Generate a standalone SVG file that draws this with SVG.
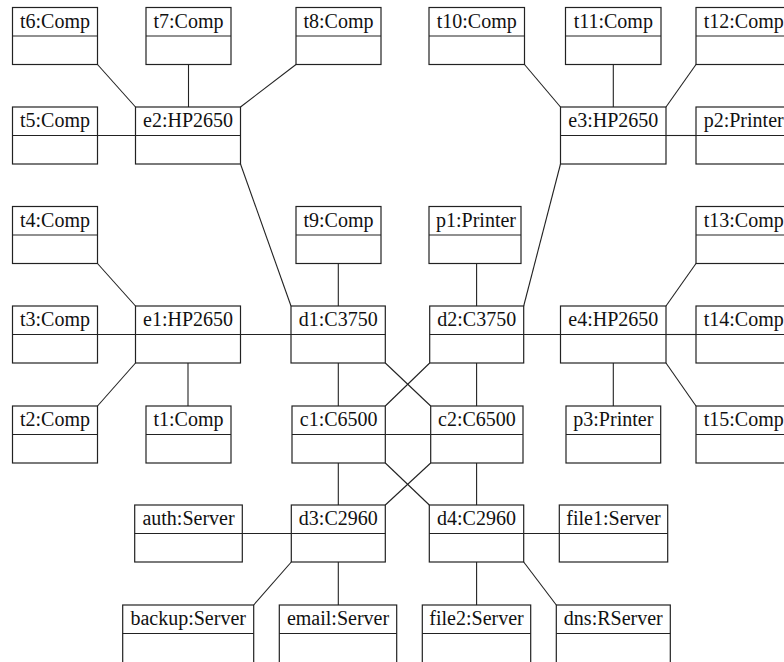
<svg xmlns="http://www.w3.org/2000/svg" width="784" height="662" viewBox="0 0 784 662">
  <style>
    .box { fill: #ffffff; stroke: #222; stroke-width: 1.2; }
    .div { stroke: #222; stroke-width: 1.2; }
    .lbl { font-family: "Liberation Serif", "Times New Roman", serif; font-size: 20px; fill: #111; text-anchor: middle; }
    .conn line { stroke: #222; stroke-width: 1.1; }
  </style>
  <rect width="784" height="662" fill="#ffffff"/>

  <!-- links between devices -->
  <g class="conn" id="connectors">
    <line x1="97.5" y1="64.5" x2="135.5" y2="107"/>
    <line x1="188.5" y1="64.5" x2="188.5" y2="107"/>
    <line x1="296" y1="64.5" x2="240.5" y2="107"/>
    <line x1="97.5" y1="135.5" x2="135.5" y2="135.5"/>
    <line x1="240.5" y1="164" x2="291" y2="306"/>
    <line x1="524.5" y1="64.5" x2="560.5" y2="107"/>
    <line x1="613.3" y1="64.5" x2="613.3" y2="107"/>
    <line x1="696" y1="64.5" x2="666" y2="107"/>
    <line x1="666" y1="135.5" x2="696" y2="135.5"/>
    <line x1="560.5" y1="164" x2="523.7" y2="306"/>
    <line x1="97.5" y1="263.5" x2="135.5" y2="306"/>
    <line x1="97.5" y1="334.5" x2="135.5" y2="334.5"/>
    <line x1="240.5" y1="334.5" x2="291" y2="334.5"/>
    <line x1="135.5" y1="363" x2="97.5" y2="406"/>
    <line x1="188" y1="363" x2="188" y2="406"/>
    <line x1="338.3" y1="263.5" x2="338.3" y2="306"/>
    <line x1="476.6" y1="263.5" x2="476.6" y2="306"/>
    <line x1="523.7" y1="334.5" x2="560.5" y2="334.5"/>
    <line x1="696" y1="263.5" x2="666" y2="306"/>
    <line x1="666" y1="334.5" x2="696" y2="334.5"/>
    <line x1="666" y1="363" x2="696" y2="406"/>
    <line x1="613.3" y1="363" x2="613.3" y2="406"/>
    <line x1="338.3" y1="363" x2="338.3" y2="406"/>
    <line x1="385.3" y1="363" x2="430.7" y2="406"/>
    <line x1="429.7" y1="363" x2="385.3" y2="406"/>
    <line x1="476.6" y1="363" x2="476.6" y2="406"/>
    <line x1="385.3" y1="434.5" x2="430.7" y2="434.5"/>
    <line x1="338.3" y1="463" x2="338.3" y2="505"/>
    <line x1="385.3" y1="463" x2="429.3" y2="505"/>
    <line x1="430.7" y1="463" x2="385.3" y2="505"/>
    <line x1="476.6" y1="463" x2="476.6" y2="505"/>
    <line x1="242.3" y1="533.5" x2="291.3" y2="533.5"/>
    <line x1="291.3" y1="562" x2="253.7" y2="605"/>
    <line x1="338.3" y1="562" x2="338.3" y2="605"/>
    <line x1="523.7" y1="533.5" x2="559.3" y2="533.5"/>
    <line x1="476.6" y1="562" x2="476.6" y2="605"/>
    <line x1="523.7" y1="562" x2="556.3" y2="605"/>
  </g>

  <!-- row 1 -->
  <g id="t6"><rect class="box" x="12.5" y="7.5" width="85" height="57"/><line class="div" x1="12.5" y1="36" x2="97.5" y2="36"/><text class="lbl" x="55" y="27.5">t6:Comp</text></g>
  <g id="t7"><rect class="box" x="146" y="7.5" width="85" height="57"/><line class="div" x1="146" y1="36" x2="231" y2="36"/><text class="lbl" x="188.5" y="27.5">t7:Comp</text></g>
  <g id="t8"><rect class="box" x="296" y="7.5" width="85" height="57"/><line class="div" x1="296" y1="36" x2="381" y2="36"/><text class="lbl" x="338.5" y="27.5">t8:Comp</text></g>
  <g id="t10"><rect class="box" x="429" y="7.5" width="95.5" height="57"/><line class="div" x1="429" y1="36" x2="524.5" y2="36"/><text class="lbl" x="476.7" y="27.5">t10:Comp</text></g>
  <g id="t11"><rect class="box" x="565.5" y="7.5" width="95.5" height="57"/><line class="div" x1="565.5" y1="36" x2="661" y2="36"/><text class="lbl" x="613.3" y="27.5">t11:Comp</text></g>
  <g id="t12"><rect class="box" x="696" y="7.5" width="95.5" height="57"/><line class="div" x1="696" y1="36" x2="791.5" y2="36"/><text class="lbl" x="743.7" y="27.5">t12:Comp</text></g>

  <!-- row 2 -->
  <g id="t5"><rect class="box" x="12.5" y="107" width="85" height="57"/><line class="div" x1="12.5" y1="135.5" x2="97.5" y2="135.5"/><text class="lbl" x="55" y="127">t5:Comp</text></g>
  <g id="e2"><rect class="box" x="135.5" y="107" width="105" height="57"/><line class="div" x1="135.5" y1="135.5" x2="240.5" y2="135.5"/><text class="lbl" x="188" y="127">e2:HP2650</text></g>
  <g id="e3"><rect class="box" x="560.5" y="107" width="105.5" height="57"/><line class="div" x1="560.5" y1="135.5" x2="666" y2="135.5"/><text class="lbl" x="613.3" y="127">e3:HP2650</text></g>
  <g id="p2"><rect class="box" x="696" y="107" width="95.5" height="57"/><line class="div" x1="696" y1="135.5" x2="791.5" y2="135.5"/><text class="lbl" x="743.7" y="127">p2:Printer</text></g>

  <!-- row 3 -->
  <g id="t4"><rect class="box" x="12.5" y="206.5" width="85" height="57"/><line class="div" x1="12.5" y1="235" x2="97.5" y2="235"/><text class="lbl" x="55" y="226.5">t4:Comp</text></g>
  <g id="t9"><rect class="box" x="296" y="206.5" width="85" height="57"/><line class="div" x1="296" y1="235" x2="381" y2="235"/><text class="lbl" x="338.5" y="226.5">t9:Comp</text></g>
  <g id="p1"><rect class="box" x="429" y="206.5" width="92" height="57"/><line class="div" x1="429" y1="235" x2="521" y2="235"/><text class="lbl" x="476" y="226.5">p1:Printer</text></g>
  <g id="t13"><rect class="box" x="696" y="206.5" width="95.5" height="57"/><line class="div" x1="696" y1="235" x2="791.5" y2="235"/><text class="lbl" x="743.7" y="226.5">t13:Comp</text></g>

  <!-- row 4 -->
  <g id="t3"><rect class="box" x="12.5" y="306" width="85" height="57"/><line class="div" x1="12.5" y1="334.5" x2="97.5" y2="334.5"/><text class="lbl" x="55" y="326">t3:Comp</text></g>
  <g id="e1"><rect class="box" x="135.5" y="306" width="105" height="57"/><line class="div" x1="135.5" y1="334.5" x2="240.5" y2="334.5"/><text class="lbl" x="188" y="326">e1:HP2650</text></g>
  <g id="d1"><rect class="box" x="291" y="306" width="94.3" height="57"/><line class="div" x1="291" y1="334.5" x2="385.3" y2="334.5"/><text class="lbl" x="338.2" y="326">d1:C3750</text></g>
  <g id="d2"><rect class="box" x="429.7" y="306" width="94" height="57"/><line class="div" x1="429.7" y1="334.5" x2="523.7" y2="334.5"/><text class="lbl" x="476.7" y="326">d2:C3750</text></g>
  <g id="e4"><rect class="box" x="560.5" y="306" width="105.5" height="57"/><line class="div" x1="560.5" y1="334.5" x2="666" y2="334.5"/><text class="lbl" x="613.3" y="326">e4:HP2650</text></g>
  <g id="t14"><rect class="box" x="696" y="306" width="95.5" height="57"/><line class="div" x1="696" y1="334.5" x2="791.5" y2="334.5"/><text class="lbl" x="743.7" y="326">t14:Comp</text></g>

  <!-- row 5 -->
  <g id="t2"><rect class="box" x="12.5" y="406" width="85" height="57"/><line class="div" x1="12.5" y1="434.5" x2="97.5" y2="434.5"/><text class="lbl" x="55" y="426">t2:Comp</text></g>
  <g id="t1"><rect class="box" x="146" y="406" width="85" height="57"/><line class="div" x1="146" y1="434.5" x2="231" y2="434.5"/><text class="lbl" x="188.5" y="426">t1:Comp</text></g>
  <g id="c1"><rect class="box" x="292" y="406" width="93.3" height="57"/><line class="div" x1="292" y1="434.5" x2="385.3" y2="434.5"/><text class="lbl" x="338.7" y="426">c1:C6500</text></g>
  <g id="c2"><rect class="box" x="430.7" y="406" width="92.3" height="57"/><line class="div" x1="430.7" y1="434.5" x2="523" y2="434.5"/><text class="lbl" x="476.9" y="426">c2:C6500</text></g>
  <g id="p3"><rect class="box" x="566" y="406" width="94.7" height="57"/><line class="div" x1="566" y1="434.5" x2="660.7" y2="434.5"/><text class="lbl" x="613.3" y="426">p3:Printer</text></g>
  <g id="t15"><rect class="box" x="696" y="406" width="95.5" height="57"/><line class="div" x1="696" y1="434.5" x2="791.5" y2="434.5"/><text class="lbl" x="743.7" y="426">t15:Comp</text></g>

  <!-- row 6 -->
  <g id="auth"><rect class="box" x="134.7" y="505" width="107.6" height="57"/><line class="div" x1="134.7" y1="533.5" x2="242.3" y2="533.5"/><text class="lbl" x="188.5" y="525">auth:Server</text></g>
  <g id="d3"><rect class="box" x="291.3" y="505" width="94" height="57"/><line class="div" x1="291.3" y1="533.5" x2="385.3" y2="533.5"/><text class="lbl" x="338.3" y="525">d3:C2960</text></g>
  <g id="d4"><rect class="box" x="429.3" y="505" width="94.4" height="57"/><line class="div" x1="429.3" y1="533.5" x2="523.7" y2="533.5"/><text class="lbl" x="476.5" y="525">d4:C2960</text></g>
  <g id="file1"><rect class="box" x="559.3" y="505" width="108.4" height="57"/><line class="div" x1="559.3" y1="533.5" x2="667.7" y2="533.5"/><text class="lbl" x="613.5" y="525">file1:Server</text></g>

  <!-- row 7 (runs past the lower edge) -->
  <g id="backup"><rect class="box" x="122.7" y="605" width="131" height="60"/><line class="div" x1="122.7" y1="633.5" x2="253.7" y2="633.5"/><text class="lbl" x="188.2" y="625">backup:Server</text></g>
  <g id="email"><rect class="box" x="279.3" y="605" width="117.4" height="60"/><line class="div" x1="279.3" y1="633.5" x2="396.7" y2="633.5"/><text class="lbl" x="338" y="625">email:Server</text></g>
  <g id="file2"><rect class="box" x="422.3" y="605" width="108.4" height="60"/><line class="div" x1="422.3" y1="633.5" x2="530.7" y2="633.5"/><text class="lbl" x="476.5" y="625">file2:Server</text></g>
  <g id="dns"><rect class="box" x="556.3" y="605" width="114" height="60"/><line class="div" x1="556.3" y1="633.5" x2="670.3" y2="633.5"/><text class="lbl" x="613.3" y="625">dns:RServer</text></g>
</svg>
